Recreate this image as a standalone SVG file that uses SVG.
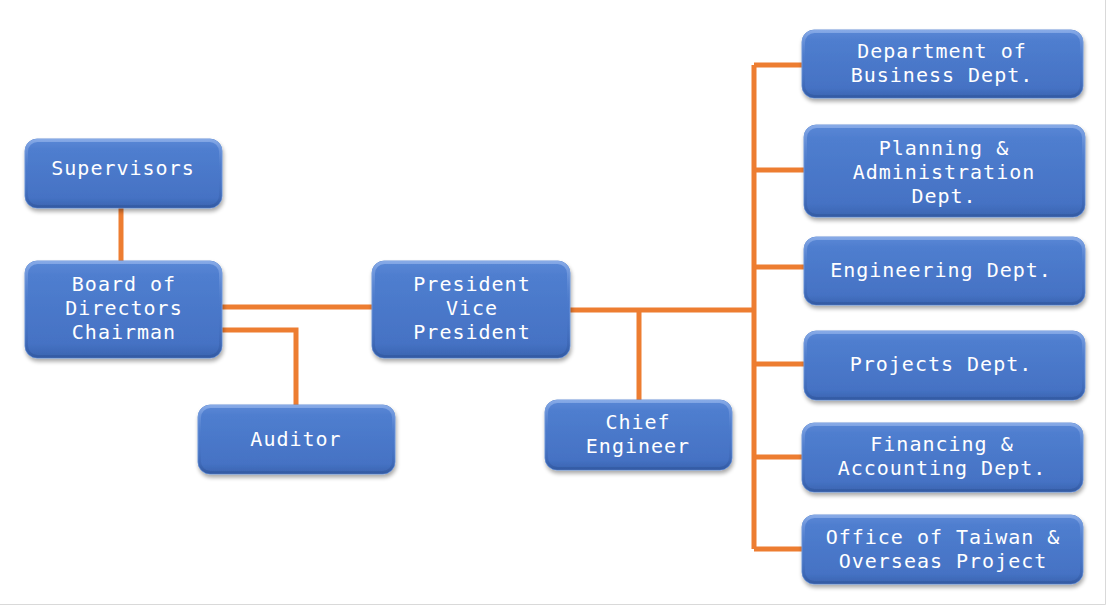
<svg xmlns="http://www.w3.org/2000/svg" width="1111" height="608" viewBox="0 0 1111 608">
<style>
.box{fill:url(#g);stroke:#6d95d8;stroke-width:1;filter:url(#sh)}
.rim{fill:none;stroke:url(#r);stroke-width:3}
.t{font-family:"DejaVu Sans Mono","Liberation Mono",monospace;font-size:20px;fill:#ffffff;text-anchor:middle;letter-spacing:1px}
.c{fill:none;stroke:#ED7D31;stroke-width:5;stroke-linejoin:miter}
</style>
<defs>
<linearGradient id="g" x1="0" y1="0" x2="0" y2="1">
<stop offset="0" stop-color="#5a88d6"/>
<stop offset="0.15" stop-color="#4f7ecf"/>
<stop offset="0.85" stop-color="#4572c4"/>
<stop offset="1" stop-color="#3b64b0"/>
</linearGradient>
<linearGradient id="r" x1="0" y1="0" x2="0" y2="1">
<stop offset="0" stop-color="#8fb0ea" stop-opacity="0.8"/>
<stop offset="0.5" stop-color="#4a77c8" stop-opacity="0"/>
<stop offset="1" stop-color="#2f559c" stop-opacity="0.6"/>
</linearGradient>
<filter id="sh" x="-10%" y="-10%" width="120%" height="130%">
<feGaussianBlur in="SourceAlpha" stdDeviation="2"/>
<feOffset dx="1" dy="3" result="o"/>
<feComponentTransfer><feFuncA type="linear" slope="0.35"/></feComponentTransfer>
<feMerge><feMergeNode/><feMergeNode in="SourceGraphic"/></feMerge>
</filter>
</defs>
<rect width="1111" height="608" fill="#ffffff"/>
<path d="M1105.5 0V604.5H0" fill="none" stroke="#d9d9d9" stroke-width="1"/>
<g id="connectors">
<path class="c" d="M121 208V261"/>
<path class="c" d="M222 307H372"/>
<path class="c" d="M222 330H296V405"/>
<path class="c" d="M570 310H754"/>
<path class="c" d="M639 310V400"/>
<path class="c" d="M754 65V549"/>
<path class="c" d="M754 65H802"/>
<path class="c" d="M754 170H804"/>
<path class="c" d="M754 267H804"/>
<path class="c" d="M754 364H804"/>
<path class="c" d="M754 457H802"/>
<path class="c" d="M754 549H802"/>
</g>
<g id="supervisors">
<rect class="box" x="25" y="139" width="197" height="69" rx="12"/>
<rect class="rim" x="26.5" y="140.5" width="194" height="66" rx="11"/>
<text class="t" x="123" y="175">Supervisors</text>
</g>
<g id="board">
<rect class="box" x="25" y="261" width="197" height="97" rx="12"/>
<rect class="rim" x="26.5" y="262.5" width="194" height="94" rx="11"/>
<text class="t" x="124" y="291">Board of</text>
<text class="t" x="124" y="315">Directors</text>
<text class="t" x="124" y="339">Chairman</text>
</g>
<g id="auditor">
<rect class="box" x="198" y="405" width="197" height="69" rx="12"/>
<rect class="rim" x="199.5" y="406.5" width="194" height="66" rx="11"/>
<text class="t" x="296" y="446">Auditor</text>
</g>
<g id="president">
<rect class="box" x="372" y="261" width="198" height="97" rx="12"/>
<rect class="rim" x="373.5" y="262.5" width="195" height="94" rx="11"/>
<text class="t" x="472" y="291">President</text>
<text class="t" x="472" y="315">Vice</text>
<text class="t" x="472" y="339">President</text>
</g>
<g id="chief">
<rect class="box" x="545" y="400" width="187" height="70" rx="12"/>
<rect class="rim" x="546.5" y="401.5" width="184" height="67" rx="11"/>
<text class="t" x="638" y="429">Chief</text>
<text class="t" x="638" y="453">Engineer</text>
</g>
<g id="business">
<rect class="box" x="802" y="30" width="281" height="68" rx="12"/>
<rect class="rim" x="803.5" y="31.5" width="278" height="65" rx="11"/>
<text class="t" x="942" y="58">Department of</text>
<text class="t" x="942" y="82">Business Dept.</text>
</g>
<g id="planning">
<rect class="box" x="804" y="125" width="281" height="92" rx="12"/>
<rect class="rim" x="805.5" y="126.5" width="278" height="89" rx="11"/>
<text class="t" x="944" y="155">Planning &amp;</text>
<text class="t" x="944" y="179">Administration</text>
<text class="t" x="944" y="203">Dept.</text>
</g>
<g id="engineering">
<rect class="box" x="804" y="237" width="281" height="68" rx="12"/>
<rect class="rim" x="805.5" y="238.5" width="278" height="65" rx="11"/>
<text class="t" x="941" y="277">Engineering Dept.</text>
</g>
<g id="projects">
<rect class="box" x="804" y="331" width="281" height="69" rx="12"/>
<rect class="rim" x="805.5" y="332.5" width="278" height="66" rx="11"/>
<text class="t" x="941" y="371">Projects Dept.</text>
</g>
<g id="financing">
<rect class="box" x="802" y="423" width="281" height="69" rx="12"/>
<rect class="rim" x="803.5" y="424.5" width="278" height="66" rx="11"/>
<text class="t" x="942" y="451">Financing &amp;</text>
<text class="t" x="942" y="475">Accounting Dept.</text>
</g>
<g id="office">
<rect class="box" x="802" y="515" width="281" height="69" rx="12"/>
<rect class="rim" x="803.5" y="516.5" width="278" height="66" rx="11"/>
<text class="t" x="943" y="544">Office of Taiwan &amp;</text>
<text class="t" x="943" y="568">Overseas Project</text>
</g>
</svg>
